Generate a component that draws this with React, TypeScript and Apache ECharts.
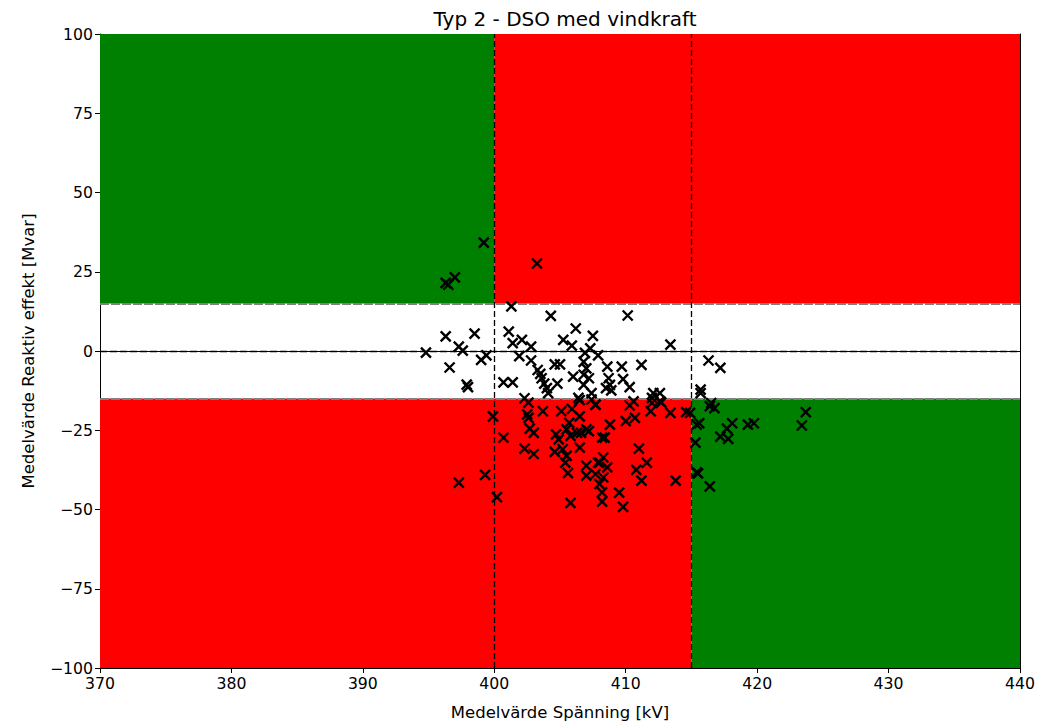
import React, { useEffect, useRef } from "react";
import * as echarts from "echarts";

const titleText = "Typ 2 - DSO med vindkraft";
const xName = "Medelvärde Spänning [kV]";
const yName = "Medelvärde Reaktiv effekt [Mvar]";

const xRange = [370, 440];
const yRange = [-100, 100];
const voltageLimits = [400, 415];
const reactiveLimits = [-15, 15];

// zones: [x1, y1, x2, y2, colour]
const zones: [number, number, number, number, string][] = [
  [370, 15, 400, 100, "#008000"],
  [400, 15, 440, 100, "#ff0000"],
  [370, -100, 415, -15, "#ff0000"],
  [415, -100, 440, -15, "#008000"],
];

const voltage = [
  399.2, 403.25, 397.0, 396.5, 396.3,
  401.3, 404.3, 410.15, 401.1, 396.3, 398.5, 406.2, 407.5, 402.1, 401.4, 405.25, 402.8, 405.9, 397.3, 397.6,
  394.8, 399.4, 399.0, 401.9, 396.6, 402.8, 406.9, 407.3, 407.9, 404.6, 405.0, 403.3, 403.5, 406.8, 407.0,
  408.6, 409.7, 411.2, 403.6, 403.8, 404.0, 404.1, 404.8, 406.0, 400.7, 401.4, 397.9, 398.0, 406.8, 407.2,
  408.7, 409.8, 408.8, 408.5, 408.9, 410.3, 412.1, 412.6, 406.8, 407.4, 413.4, 416.3, 417.2, 415.7, 415.7,
  402.3, 402.6, 406.4, 407.4, 407.7, 410.6, 412.0, 412.7, 410.3, 412.0, 411.9, 412.6, 413.4, 414.6, 410.7,
  410.0, 408.8, 407.2, 406.6, 408.4, 411.0, 411.6, 410.8, 411.2, 413.8, 407.0, 408.3, 408.0, 408.6, 407.7,
  408.3, 408.0, 408.2, 409.5, 408.2, 409.8,
  399.9, 400.7, 399.3, 397.3, 400.2, 402.5, 402.6, 403.7, 402.7, 403.0, 402.3, 403.0, 405.1, 405.7, 405.9,
  404.7, 404.9, 405.5, 405.8, 406.3, 404.6, 405.2, 405.5, 405.4, 405.6, 406.5, 407.0, 405.8, 407.0, 406.5,
  406.5, 407.7, 408.2, 407.9,
  414.9, 416.5, 416.75, 416.4, 415.4, 415.6, 415.3, 415.4, 415.5, 416.4, 417.2, 417.8, 417.7, 418.1, 419.3,
  419.75, 423.4, 423.7,
];

const reactive = [
  34.2, 27.6, 23.2, 20.9, 21.5,
  14.1, 11.1, 11.2, 6.1, 4.6, 5.5, 7.1, 4.8, 3.5, 2.5, 3.5, 1.4, 1.7, 1.4, 0.1,
  -0.5, -1.4, -2.8, -1.6, -5.2, -3.0, -0.6, 0.8, -1.4, -4.2, -4.2, -6.0, -7.2, -3.4, -5.5,
  -4.9, -4.9, -4.4, -8.6, -10.3, -11.7, -13.3, -10.3, -8.1, -9.9, -9.9, -10.6, -11.4, -7.5, -8.6,
  -8.6, -8.9, -10.7, -11.7, -12.4, -11.4, -13.3, -13.3, -10.7, -13.3, 2.0, -3.0, -5.3, -12.2, -13.3,
  -14.9, -16.3, -14.8, -15.3, -17.0, -15.9, -14.8, -16.2, -17.2, -16.4, -19.0, -15.9, -19.5, -19.3, -21.1,
  -22.1, -23.2, -25.3, -25.8, -27.3, -30.8, -35.2, -37.5, -40.9, -40.9, -36.2, -33.6, -35.2, -36.7, -38.8,
  -39.9, -41.9, -44.6, -44.7, -47.5, -49.2,
  -20.6, -27.3, -39.1, -41.5, -46.1, -20.0, -21.1, -19.0, -24.5, -25.8, -30.8, -32.5, -19.0, -22.7, -18.3,
  -26.3, -27.9, -24.7, -26.8, -25.8, -31.8, -31.0, -33.1, -35.2, -38.5, -30.5, -39.3, -47.9, -24.7, -15.5,
  -20.6, -16.9, -27.3, -35.2,
  -19.5, -16.4, -18.0, -17.4, -23.2, -22.8, -28.9, -38.3, -38.6, -42.7, -27.0, -27.7, -24.5, -22.8, -23.2,
  -22.8, -23.5, -19.3,
];

const FONT = "DejaVu Sans";

export default function App() {
  const ref = useRef<HTMLDivElement>(null);
  useEffect(() => {
    if (!ref.current) return;
    const chart = echarts.init(ref.current, undefined, { renderer: "svg" });
    const points = voltage.map((v, i) => [v, reactive[i]]);
    const minusFmt = (v: number) => String(v).replace("-", "\u2212");
    const hiddenAxisCommon = {
      axisLine: { show: true, lineStyle: { color: "#000", width: 1 } },
      axisTick: { show: false },
      axisLabel: { show: false },
      splitLine: { show: false },
    };
    chart.setOption({
      animation: false,
      backgroundColor: "#fff",
      title: {
        text: titleText,
        left: 560,
        textAlign: "center",
        top: 4,
        textStyle: { fontFamily: FONT, fontSize: 20, fontWeight: "normal", color: "#000" },
      },
      grid: { left: 100, right: 35, top: 34, bottom: 53, containLabel: false },
      xAxis: [
        {
          type: "value",
          min: xRange[0],
          max: xRange[1],
          interval: 10,
          name: xName,
          nameLocation: "middle",
          nameGap: 36,
          nameTextStyle: { fontFamily: FONT, fontSize: 16.5, color: "#000" },
          axisLine: { show: true, onZero: false, lineStyle: { color: "#000", width: 1 } },
          axisTick: { show: true, length: 5, lineStyle: { color: "#000" } },
          axisLabel: { fontFamily: FONT, fontSize: 15.7, color: "#000", margin: 7, formatter: minusFmt },
          splitLine: { show: false },
        },
        { type: "value", position: "top", min: xRange[0], max: xRange[1], ...hiddenAxisCommon },
      ],
      yAxis: [
        {
          type: "value",
          min: yRange[0],
          max: yRange[1],
          interval: 25,
          name: yName,
          nameLocation: "middle",
          nameGap: 63,
          nameTextStyle: { fontFamily: FONT, fontSize: 16.5, color: "#000" },
          axisLine: { show: true, onZero: false, lineStyle: { color: "#000", width: 1 } },
          axisTick: { show: true, length: 5, lineStyle: { color: "#000" } },
          axisLabel: { fontFamily: FONT, fontSize: 15.7, color: "#000", margin: 7, formatter: minusFmt },
          splitLine: { show: false },
        },
        { type: "value", position: "right", min: yRange[0], max: yRange[1], ...hiddenAxisCommon },
      ],
      series: [
        {
          type: "scatter",
          data: [],
          z: 1,
          silent: true,
          markArea: {
            silent: true,
            data: zones.map((z) => [
              { coord: [z[0], z[1]], itemStyle: { color: z[4], opacity: 1 } },
              { coord: [z[2], z[3]] },
            ]),
          },
          markLine: {
            silent: true,
            symbol: "none",
            label: { show: false },
            data: [
              ...reactiveLimits.map((y) => ({
                yAxis: y,
                lineStyle: { color: "#808080", width: 2, type: [9, 2] },
              })),
              {
                yAxis: 0,
                lineStyle: { color: "#000", width: 1.3, type: [7, 3] },
              },
              ...voltageLimits.map((x) => ({
                xAxis: x,
                lineStyle: { color: "#000", width: 1.3, type: [6, 3] },
              })),
            ],
          },
        },
        {
          type: "scatter",
          z: 5,
          data: points,
          symbol: "path://M0,0L10,10M10,0L0,10",
          symbolSize: 10,
          itemStyle: { color: "rgba(0,0,0,0)", borderColor: "#000", borderWidth: 2.4, opacity: 1 },
        },
      ],
    });
    return () => chart.dispose();
  }, []);
  return <div ref={ref} style={{ width: 1055, height: 726, position: "absolute", left: 0, top: 0 }} />;
}
